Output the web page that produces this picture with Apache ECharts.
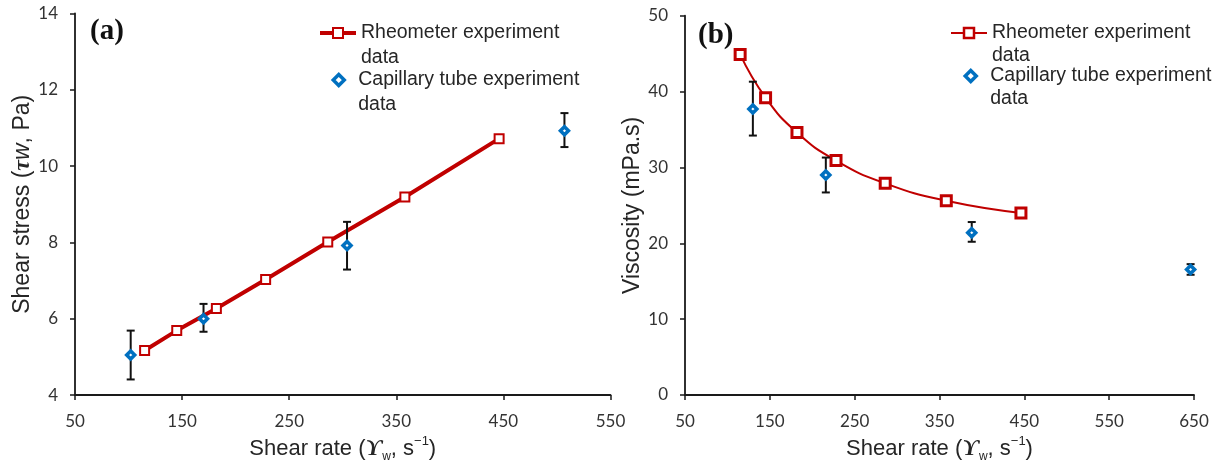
<!DOCTYPE html>
<html>
<head>
<meta charset="utf-8">
<style>
  html, body { margin: 0; padding: 0; background: #ffffff; }
  #chart { width: 1230px; height: 468px; }
</style>
<script src="https://cdn.jsdelivr.net/npm/echarts@6/dist/echarts.min.js"></script>
</head>
<body>
<div id="chart"></div>
<script>
// Rheometer measurements (shared shear rates for both panels)
const rheoShearRate = [115, 145, 182, 228, 286, 358, 446];
const rheoShearStress = [5.17, 5.69, 6.27, 7.03, 8.01, 9.19, 10.72];
const rheoViscosity = [44.9, 39.2, 34.6, 30.9, 27.9, 25.6, 24.0];

// Capillary tube measurements, panel (a): shear stress with error range
const capShearRateA = [102, 170, 304, 507];
const capShearStress = [5.05, 6.0, 7.92, 10.93];
const capShearStressLow = [4.41, 5.66, 7.29, 10.5];
const capShearStressHigh = [5.69, 6.39, 8.54, 11.39];

// Capillary tube measurements, panel (b): viscosity with error range
const capShearRateB = [130, 216, 388, 646];
const capViscosity = [37.7, 29.0, 21.4, 16.55];
const capViscosityLow = [34.2, 26.7, 20.2, 15.85];
const capViscosityHigh = [41.3, 31.3, 22.8, 17.25];

// Axis ranges: [min, max, interval]
const xRangeA = [50, 550, 100];
const yRangeA = [4, 14, 2];
const xRangeB = [50, 650, 100];
const yRangeB = [0, 50, 10];

// Panel tags and legend texts (leading blank line keeps the icon on the first text line)
const panelTags = ['(a)', '(b)'];
const legendText = {
  rheoA: '\nRheometer experiment\ndata',
  capA: '\nCapillary tube experiment\ndata',
  rheoB: '\nRheometer experiment\ndata',
  capB: '\nCapillary tube experiment\ndata'
};

const RED = '#C00000';
const BLUE = '#0070C0';
const SANS = 'Liberation Sans, Arial, sans-serif';
const TICKFONT = 'Lato, Liberation Sans, sans-serif';
const SERIF = 'Liberation Serif, Times New Roman, serif';

const zip = (xs, ys) => xs.map((x, i) => [x, ys[i]]);
const zipErr = (xs, ys, lo, hi) => xs.map((x, i) => [x, ys[i], lo[i], hi[i]]);

function errorBarRender(params, api) {
  const x = api.value(0);
  const lo = api.coord([x, api.value(2)]);
  const hi = api.coord([x, api.value(3)]);
  const cap = 4;
  const style = { stroke: '#111', lineWidth: 2 };
  return {
    type: 'group',
    children: [
      { type: 'line', shape: { x1: lo[0], y1: lo[1], x2: hi[0], y2: hi[1] }, style },
      { type: 'line', shape: { x1: lo[0] - cap, y1: lo[1], x2: lo[0] + cap, y2: lo[1] }, style },
      { type: 'line', shape: { x1: hi[0] - cap, y1: hi[1], x2: hi[0] + cap, y2: hi[1] }, style }
    ]
  };
}

function valueAxis(range, gridIndex, labelMargin, extra) {
  return Object.assign({
    type: 'value',
    gridIndex,
    min: range[0],
    max: range[1],
    interval: range[2],
    splitLine: { show: false },
    axisLine: { show: true, onZero: false, lineStyle: { color: '#1a1a1a', width: 1.8 } },
    axisTick: { show: true, length: 5, lineStyle: { color: '#1a1a1a', width: 1.5 } },
    axisLabel: { color: '#333', fontFamily: TICKFONT, fontSize: 17, margin: labelMargin }
  }, extra);
}

const xNameStyle = {
  color: '#262626',
  fontFamily: SANS,
  fontSize: 22,
  lineHeight: 28,
  rich: {
    g: { fontFamily: SERIF, fontWeight: 'bold', fontStyle: 'italic', fontSize: 23, color: '#262626' },
    sub: { fontFamily: SANS, fontSize: 12, lineHeight: 13, verticalAlign: 'bottom', color: '#262626' },
    sup: { fontFamily: SANS, fontSize: 13, lineHeight: 15, verticalAlign: 'top', color: '#262626' }
  }
};
const xName = 'Shear rate ({g|ϒ}{sub|w}, s{sup|−1})';

function legendItem(name, left, top, iconW, iconH, lineH, lineWidth, borderWidth, textShift) {
  return {
    data: [name],
    left, top,
    padding: 0,
    itemWidth: iconW,
    itemHeight: iconH,
    selectedMode: false,
    formatter: n => legendText[n],
    lineStyle: { width: lineWidth },
    itemStyle: { borderWidth },
    textStyle: {
      color: '#262626', fontFamily: SANS, fontSize: 19.5,
      lineHeight: lineH, padding: [0, 0, 0, textShift]
    }
  };
}

const chart = echarts.init(document.getElementById('chart'), null, { renderer: 'canvas' });

chart.setOption({
  animation: false,
  backgroundColor: '#ffffff',
  title: [
    { text: panelTags[0], left: 90, top: 17, padding: 0,
      textStyle: { fontFamily: SERIF, fontWeight: 'bold', fontSize: 29, color: '#111' } },
    { text: panelTags[1], left: 698, top: 21, padding: 0,
      textStyle: { fontFamily: SERIF, fontWeight: 'bold', fontSize: 29, color: '#111' } }
  ],
  legend: [
    legendItem('rheoA', 318, -4.5, 36, 12.5, 25, 4, 2, 0),
    legendItem('capA', 331.5, 42.5, 11, 11, 25, 0, 3.5, 9),
    legendItem('rheoB', 950, -1.5, 36, 12.5, 23, 2, 2.5, 0),
    legendItem('capB', 963.5, 41.5, 11, 11, 23, 0, 3.5, 9)
  ],
  grid: [
    { left: 75, right: 619.5, top: 13.5, bottom: 72.3, containLabel: false },
    { left: 685, right: 36, top: 15.7, bottom: 73, containLabel: false }
  ],
  xAxis: [
    valueAxis(xRangeA, 0, 18, {
      name: xName, nameLocation: 'middle', nameGap: 38, nameTextStyle: xNameStyle
    }),
    valueAxis(xRangeB, 1, 18, {
      name: xName, nameLocation: 'middle', nameGap: 38, nameTextStyle: xNameStyle
    })
  ],
  yAxis: [
    valueAxis(yRangeA, 0, 17, {
      name: 'Shear stress ({tau|τ}{w|w}, Pa)', nameLocation: 'middle', nameGap: 40, nameRotate: 90,
      nameTextStyle: {
        color: '#262626', fontFamily: SANS, fontSize: 23,
        rich: {
          tau: { fontFamily: SERIF, fontWeight: 'bold', fontStyle: 'italic', fontSize: 24, color: '#262626' },
          w: { fontFamily: SANS, fontStyle: 'italic', fontSize: 23, color: '#262626' }
        }
      }
    }),
    valueAxis(yRangeB, 1, 17, {
      name: 'Viscosity (mPa.s)', nameLocation: 'middle', nameGap: 41, nameRotate: 90,
      nameTextStyle: { color: '#262626', fontFamily: SANS, fontSize: 23 }
    })
  ],
  series: [
    {
      name: 'rheoA', type: 'line', xAxisIndex: 0, yAxisIndex: 0,
      data: zip(rheoShearRate, rheoShearStress),
      symbol: 'rect', symbolSize: 9,
      lineStyle: { color: RED, width: 4 },
      itemStyle: { color: '#ffffff', borderColor: RED, borderWidth: 2 },
      z: 2
    },
    {
      name: 'errA', type: 'custom', xAxisIndex: 0, yAxisIndex: 0,
      data: zipErr(capShearRateA, capShearStress, capShearStressLow, capShearStressHigh),
      encode: { x: 0, y: [2, 3] },
      renderItem: errorBarRender, z: 3
    },
    {
      name: 'capA', type: 'scatter', xAxisIndex: 0, yAxisIndex: 0,
      data: zip(capShearRateA, capShearStress),
      symbol: 'diamond', symbolSize: 8,
      itemStyle: { color: '#ffffff', borderColor: BLUE, borderWidth: 3.5, opacity: 1 },
      z: 4
    },
    {
      name: 'rheoB', type: 'line', xAxisIndex: 1, yAxisIndex: 1,
      data: zip(rheoShearRate, rheoViscosity),
      smooth: 0.5,
      symbol: 'rect', symbolSize: 10,
      lineStyle: { color: RED, width: 2 },
      itemStyle: { color: '#ffffff', borderColor: RED, borderWidth: 3 },
      z: 2
    },
    {
      name: 'errB', type: 'custom', xAxisIndex: 1, yAxisIndex: 1,
      data: zipErr(capShearRateB, capViscosity, capViscosityLow, capViscosityHigh),
      encode: { x: 0, y: [2, 3] },
      renderItem: errorBarRender, z: 3
    },
    {
      name: 'capB', type: 'scatter', xAxisIndex: 1, yAxisIndex: 1,
      data: zip(capShearRateB, capViscosity),
      symbol: 'diamond', symbolSize: 8,
      itemStyle: { color: '#ffffff', borderColor: BLUE, borderWidth: 3.5, opacity: 1 },
      z: 4
    }
  ]
});
</script>
</body>
</html>
